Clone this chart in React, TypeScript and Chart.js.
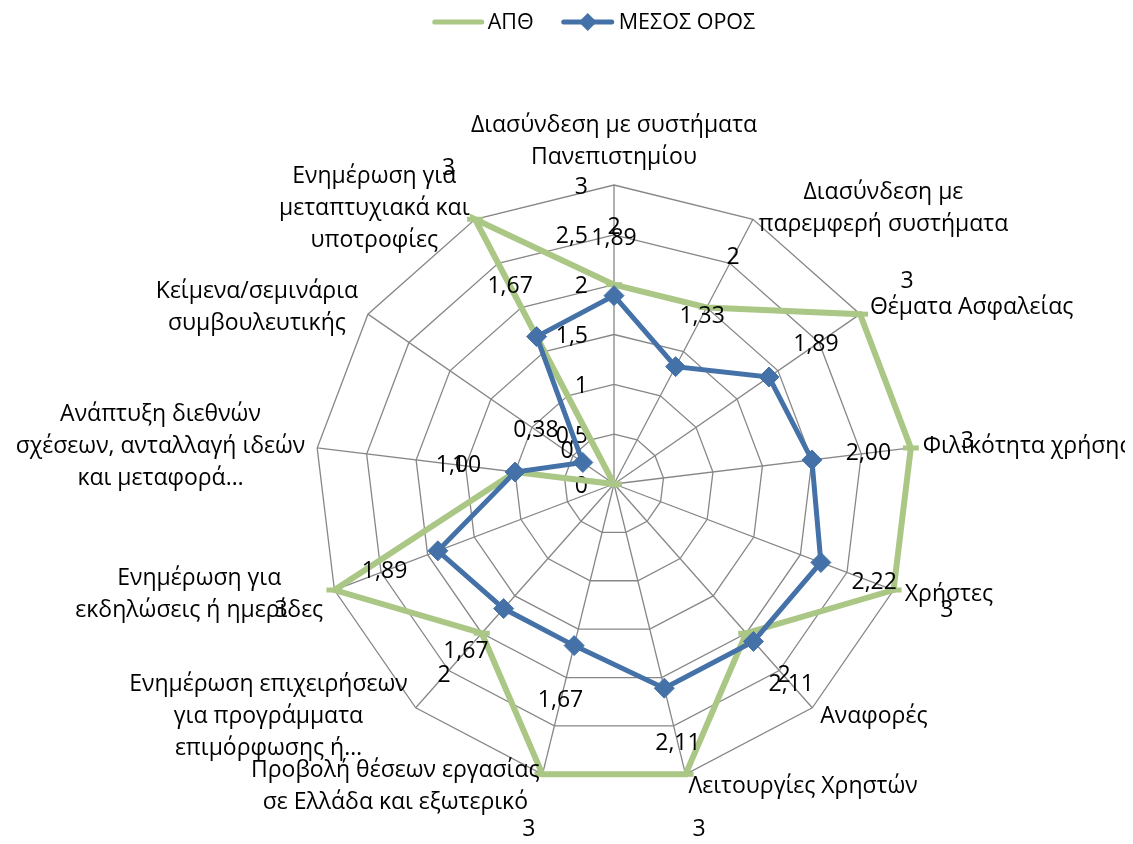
import React, { useEffect, useRef } from 'react';
import { Chart, registerables } from 'chart.js';

Chart.register(...registerables);

const categories: (string | string[])[] = [
  ['Διασύνδεση με συστήματα', 'Πανεπιστημίου'],
  ['Διασύνδεση με', 'παρεμφερή συστήματα'],
  'Θέματα Ασφαλείας',
  'Φιλικότητα χρήσης',
  'Χρήστες',
  'Αναφορές',
  'Λειτουργίες Χρηστών',
  ['Προβολή θέσεων εργασίας', 'σε Ελλάδα και εξωτερικό'],
  ['Ενημέρωση επιχειρήσεων', 'για προγράμματα', 'επιμόρφωσης ή…'],
  ['Ενημέρωση για', 'εκδηλώσεις ή ημερίδες'],
  ['Ανάπτυξη διεθνών', 'σχέσεων, ανταλλαγή ιδεών', 'και μεταφορά…'],
  ['Κείμενα/σεμινάρια', 'συμβουλευτικής'],
  ['Ενημέρωση για', 'μεταπτυχιακά και', 'υποτροφίες'],
];

const apthValues = [2, 2, 3, 3, 3, 2, 3, 3, 2, 3, 1, 0, 3];
const averageValues = [1.89, 1.33, 1.89, 2.0, 2.22, 2.11, 2.11, 1.67, 1.67, 1.89, 1.0, 0.38, 1.67];
const seriesNames = ['ΑΠΘ', 'ΜΕΣΟΣ ΟΡΟΣ'];
const tickValues = [0, 0.5, 1, 1.5, 2, 2.5, 3];

const GREEN = '#ABC785';
const BLUE = '#4472A8';
const GRID = '#878787';
const FONT_FAMILY = "'Open Sans', 'Noto Sans', sans-serif";
const FONT_SIZE = 23;
const LEGEND_FONT_SIZE = 21.5;
const LINE_H = 32;

const fmtComma = (v: number, digits: number) => v.toFixed(digits).replace('.', ',');
const fmtTick = (v: number) => (Number.isInteger(v) ? String(v) : fmtComma(v, 1));

const labelsPlugin = {
  id: 'customLabels',
  beforeDatasetsDraw(chart: any) {
    const scale = chart.scales.r;
    const ctx = chart.ctx;
    ctx.save();
    ctx.font = `${FONT_SIZE}px ${FONT_FAMILY}`;
    ctx.fillStyle = '#000';
    ctx.textAlign = 'right';
    ctx.textBaseline = 'middle';
    tickValues.forEach((v) => {
      const d = scale.getDistanceFromCenterForValue(v);
      ctx.fillText(fmtTick(v), scale.xCenter - 26, scale.yCenter - d + 2);
    });
    ctx.restore();
  },
  afterDatasetsDraw(chart: any) {
    const scale = chart.scales.r;
    const ctx = chart.ctx;
    ctx.save();
    ctx.font = `${FONT_SIZE}px ${FONT_FAMILY}`;
    ctx.fillStyle = '#000';
    ctx.textBaseline = 'middle';
    ctx.textAlign = 'center';

    // data labels
    const series = [
      { values: apthValues, fmt: (v: number) => String(v) },
      { values: averageValues, fmt: (v: number) => fmtComma(v, 2) },
    ];
    series.forEach((s) => {
      s.values.forEach((v, i) => {
        const d = scale.getDistanceFromCenterForValue(v) + 57;
        const p = scale.getPointPosition(i, d);
        ctx.fillText(s.fmt(v), p.x, p.y);
      });
    });

    // point labels
    const R = scale.drawingArea;
    const n = categories.length;
    categories.forEach((lab, i) => {
      const lines = Array.isArray(lab) ? lab : [lab];
      const p = scale.getPointPosition(i, R + 12);
      const ang = (i * 2 * Math.PI) / n;
      const sn = Math.sin(ang);
      const cs = Math.cos(ang);
      const bw = Math.max(...lines.map((l) => ctx.measureText(l).width));
      const bh = lines.length * LINE_H;
      let cx: number;
      let cy: number;
      if (Math.abs(sn) < 0.05) {
        cx = p.x;
        cy = cs > 0 ? p.y - bh / 2 : p.y + bh / 2;
      } else {
        cx = sn > 0 ? p.x + bw / 2 : p.x - bw / 2;
        cy = p.y;
      }
      lines.forEach((l, k) => ctx.fillText(l, cx, cy - bh / 2 + LINE_H * (k + 0.5)));
    });
    ctx.restore();
  },
  afterDraw(chart: any) {
    const ctx = chart.ctx;
    ctx.save();
    ctx.font = `${LEGEND_FONT_SIZE}px ${FONT_FAMILY}`;
    ctx.fillStyle = '#000';
    ctx.textBaseline = 'middle';
    ctx.textAlign = 'left';
    const y = 14;
    const t1 = ctx.measureText(seriesNames[0]).width;
    const t2 = ctx.measureText(seriesNames[1]).width;
    const total = 51 + 4 + t1 + 28 + 52 + 5 + t2;
    const x = 586 - total / 2;
    ctx.lineCap = 'round';
    ctx.strokeStyle = GREEN;
    ctx.lineWidth = 5;
    ctx.beginPath();
    ctx.moveTo(x + 2, y);
    ctx.lineTo(x + 49, y);
    ctx.stroke();
    ctx.fillText(seriesNames[0], x + 55, y + 1);
    const x2 = x + 55 + t1 + 28;
    ctx.strokeStyle = BLUE;
    ctx.beginPath();
    ctx.moveTo(x2 + 2, y);
    ctx.lineTo(x2 + 50, y);
    ctx.stroke();
    ctx.fillStyle = BLUE;
    ctx.beginPath();
    const dx = x2 + 26;
    ctx.moveTo(dx, y - 9);
    ctx.lineTo(dx + 9, y);
    ctx.lineTo(dx, y + 9);
    ctx.lineTo(dx - 9, y);
    ctx.closePath();
    ctx.fill();
    ctx.fillStyle = '#000';
    ctx.fillText(seriesNames[1], x2 + 57, y + 1);
    ctx.restore();
  },
};

export default function App() {
  const ref = useRef<HTMLCanvasElement | null>(null);
  useEffect(() => {
    if (!ref.current) return;
    const chart = new Chart(ref.current, {
      type: 'radar',
      data: {
        labels: categories as any,
        datasets: [
          {
            label: seriesNames[0],
            data: apthValues,
            borderColor: GREEN,
            backgroundColor: GREEN,
            borderWidth: 6,
            fill: false,
            pointStyle: 'line',
            pointRadius: 8,
            pointBorderWidth: 5,
            pointBorderColor: GREEN,
            pointBackgroundColor: GREEN,
            order: 2,
          },
          {
            label: seriesNames[1],
            data: averageValues,
            borderColor: BLUE,
            backgroundColor: BLUE,
            borderWidth: 5,
            fill: false,
            pointStyle: 'rectRot',
            pointRadius: 10,
            pointBorderWidth: 1,
            pointBorderColor: BLUE,
            pointBackgroundColor: BLUE,
            order: 1,
          },
        ],
      },
      options: {
        responsive: false,
        animation: false,
        layout: { padding: { left: 307, right: 220, top: 177, bottom: 53 } },
        plugins: { legend: { display: false }, tooltip: { enabled: false } },
        elements: { line: { tension: 0 } },
        scales: {
          r: {
            min: 0,
            max: 3,
            ticks: { stepSize: 0.5, display: false },
            pointLabels: { display: false },
            grid: { color: GRID, lineWidth: 1.3 },
            angleLines: { color: GRID, lineWidth: 1.3 },
          },
        },
      },
      plugins: [labelsPlugin],
    });
    return () => chart.destroy();
  }, []);
  return (
    <canvas
      ref={ref}
      width={1125}
      height={828}
      style={{ display: 'block', marginRight: -8 }}
    />
  );
}
